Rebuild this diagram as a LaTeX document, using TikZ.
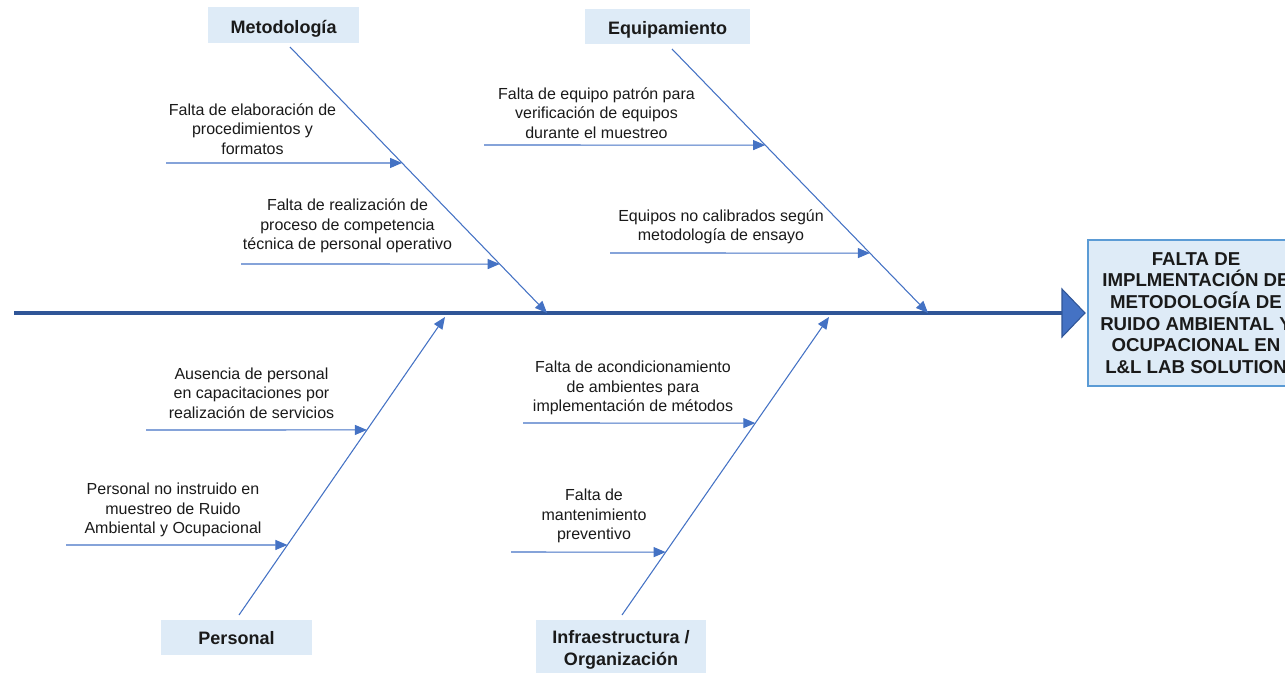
\documentclass[tikz,border=0pt]{standalone}
\usepackage{fontspec}
\setmainfont{Liberation Sans}
\usetikzlibrary{arrows.meta,calc}
\definecolor{bone}{HTML}{4472C4}
\definecolor{spinec}{HTML}{2F5597}
\definecolor{catfill}{HTML}{DEEBF7}
\definecolor{effborder}{HTML}{5B9BD5}
\definecolor{txt}{HTML}{1A1A1A}
\begin{document}
\begin{tikzpicture}[x=0.75pt,y=-0.75pt,
  bonearrow/.style={draw=bone, line width=0.8pt, -{Triangle[length=9pt,width=7.5pt]}},
  subarrow/.style={draw=bone, line width=0.8pt, -{Triangle[length=9pt,width=7.5pt]}},
  causetext/.style={font=\fontsize{12}{14.6}\selectfont, align=center, inner sep=0pt, text=txt},
  catbox/.style={fill=catfill, inner sep=0pt},
  cattext/.style={font=\fontsize{13.5}{16.5}\selectfont\bfseries, align=center, inner sep=0pt, text=txt},
  effbox/.style={fill=catfill, draw=effborder, line width=1.4pt, font=\fontsize{14}{16.2}\selectfont\bfseries, align=center, inner sep=0pt, text=txt, minimum width=162pt, minimum height=109.5pt}
]
\useasboundingbox (0,0) rectangle (1285,674);

% spine
\coordinate (tail) at (14,313);
\coordinate (head) at (1062,313);
\draw[draw=spinec, line width=2.3pt] (tail) -- (head);
\draw[fill=bone, draw=spinec, line width=0.8pt] (1062,289) -- (1085,313) -- (1062,337) -- cycle;

% effect box
\node[effbox] (effect) at (1196,313) {FALTA DE\\IMPLMENTACIÓN DE\\METODOLOGÍA DE\\RUIDO AMBIENTAL Y\\OCUPACIONAL EN\\L\&L LAB SOLUTION};

% category boxes
\node[catbox, minimum width=113.25pt, minimum height=27pt] (met) at (283.5,25) {};
\node[cattext] (metT) at (283.5,29) {Metodología};
\node[catbox, minimum width=123.75pt, minimum height=26.25pt] (equ) at (667.5,26.5) {};
\node[cattext] (equT) at (667.5,29.5) {Equipamiento};
\node[catbox, minimum width=113.25pt, minimum height=26.25pt] (per) at (236.5,637.5) {};
\node[cattext] (perT) at (236.5,638.5) {Personal};
\node[catbox, minimum width=127.5pt, minimum height=39.75pt] (inf) at (621,646.5) {};
\node[cattext] (infT) at (621,650) {Infraestructura /\\Organización};

% bones
\coordinate (m0) at (290,47);   \coordinate (m9) at (547,313);
\coordinate (e0) at (672,49);   \coordinate (e9) at (928,313);
\coordinate (p0) at (239,615);  \coordinate (p9) at (445,317);
\coordinate (i0) at (622,615);  \coordinate (i9) at (829,317);
\draw[bonearrow] (m0) -- (m9);
\draw[bonearrow] (e0) -- (e9);
\draw[bonearrow] (p0) -- (p9);
\draw[bonearrow] (i0) -- (i9);

% points on bones
\coordinate (m1) at ($(m0)!0.436!(m9)$);
\coordinate (m2) at ($(m0)!0.816!(m9)$);
\coordinate (e1) at ($(e0)!0.364!(e9)$);
\coordinate (e2) at ($(e0)!0.773!(e9)$);
\coordinate (p1) at ($(p0)!0.621!(p9)$);
\coordinate (p2) at ($(p0)!0.235!(p9)$);
\coordinate (i1) at ($(i0)!0.644!(i9)$);
\coordinate (i2) at ($(i0)!0.211!(i9)$);

% sub-arrow starts
\coordinate (m1s) at (166,163);
\coordinate (m2s) at (241,264);
\coordinate (e1s) at (484,145);
\coordinate (e2s) at (610,253);
\coordinate (p1s) at (146,430);
\coordinate (p2s) at (66,545);
\coordinate (i1s) at (523,423);
\coordinate (i2s) at (511,552);

\draw[subarrow] (m1s) -- (m1);
\draw[subarrow] (m2s) -- (m2);
\draw[subarrow] (e1s) -- (e1);
\draw[subarrow] (e2s) -- (e2);
\draw[subarrow] (p1s) -- (p1);
\draw[subarrow] (p2s) -- (p2);
\draw[subarrow] (i1s) -- (i1);
\draw[subarrow] (i2s) -- (i2);

% cause texts
\node[causetext] (tm1) at (252.5,129) {Falta de elaboración de\\procedimientos y\\formatos};
\node[causetext] (tm2) at (347.5,226) {Falta de realización de\\proceso de competencia\\técnica de personal operativo};
\node[causetext] (te1) at (596.5,113) {Falta de equipo patrón para\\verificación de equipos\\durante el muestreo};
\node[causetext] (te2) at (721,227) {Equipos no calibrados según\\metodología de ensayo};
\node[causetext] (tp1) at (251.5,393) {Ausencia de personal\\en capacitaciones por\\realización de servicios};
\node[causetext] (tp2) at (173,510) {Personal no instruido en\\muestreo de Ruido\\Ambiental y Ocupacional};
\node[causetext] (ti1) at (633,388) {Falta de acondicionamiento\\de ambientes para\\implementación de métodos};
\node[causetext] (ti2) at (594,516) {Falta de\\mantenimiento\\preventivo};
\end{tikzpicture}
\end{document}
